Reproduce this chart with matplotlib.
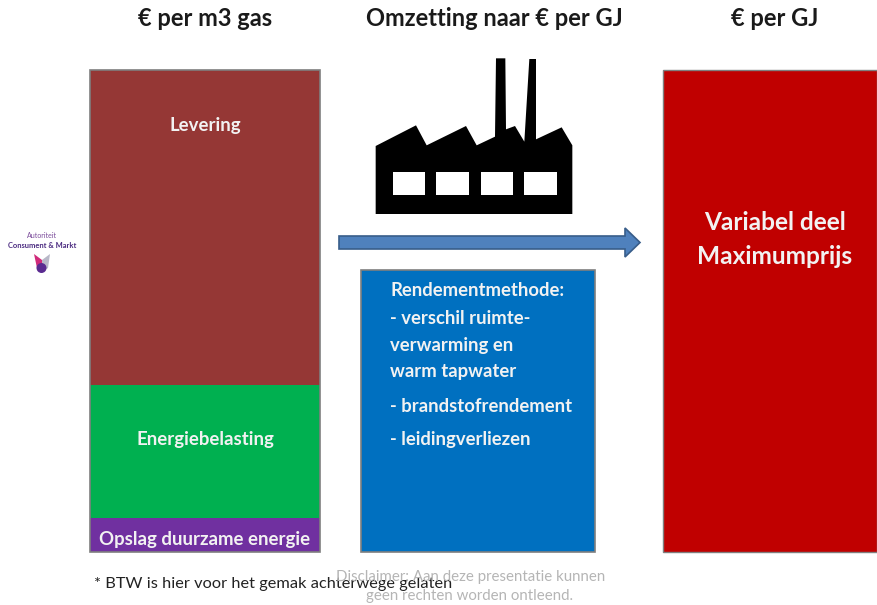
import matplotlib
matplotlib.use('Agg')
import matplotlib.pyplot as plt
from matplotlib.patches import Polygon, Rectangle, FancyArrow, Circle

plt.rcParams['font.family'] = ['Lato', 'DejaVu Sans']

# Stacked segments of the left column (height in picture pixels)
segment_labels = ['Levering', 'Energiebelasting', 'Opslag duurzame energie']
segment_values = [315, 133, 34]
segment_colors = ['#953735', '#00B050', '#7030A0']

headers = ['€ per m3 gas', 'Omzetting naar € per GJ', '€ per GJ']
method_lines = ['Rendementmethode:', '- verschil ruimte-', 'verwarming en', 'warm tapwater',
                '- brandstofrendement', '- leidingverliezen']
result_lines = ['Variabel deel', 'Maximumprijs']

factory_outline = [(107, 318), (228, 256), (260, 316), (378, 258), (410, 316), (465, 290),
                   (468, 55), (496, 55), (498, 268), (525, 258), (553, 305), (568, 57),
                   (588, 57), (588, 298), (665, 262), (697, 316), (697, 522), (107, 522)]
factory_windows = [158, 289, 422, 553]

fig = plt.figure(figsize=(8.77, 6.05), dpi=100)
ax = fig.add_axes([0, 0, 1, 1])
ax.set_xlim(0, 877)
ax.set_ylim(605, 0)
ax.axis('off')

# Headers
for x, t in zip([205, 494, 775], headers):
    ax.text(x, 19, t, ha='center', va='center', fontsize=17, fontweight='bold', color='#1a1a1a')

# Left stacked column
top = 70
for val, col in zip(segment_values, segment_colors):
    ax.bar(205, val, width=230, bottom=top, color=col, edgecolor='none', zorder=2)
    top += val
ax.add_patch(Rectangle((90, 70), 230, 482, fill=False, edgecolor='#7f7f7f', lw=1.2, zorder=3))
for y, t in zip([125, 440, 539], segment_labels):
    ax.text(205, y, t, ha='center', va='center', fontsize=13.4, fontweight='bold', color='#f2f2f2', zorder=4)

pts = [(340 + x / 3, 40 + y / 3) for x, y in factory_outline]
ax.add_patch(Polygon(pts, closed=True, facecolor='black', edgecolor='none', zorder=2))
for wx in factory_windows:
    ax.add_patch(Rectangle((340 + wx / 3, 40 + 395 / 3), 97 / 3, 70 / 3, facecolor='white',
                           edgecolor='none', zorder=3))

# Arrow
ax.add_patch(FancyArrow(339, 242.5, 301, 0, width=13, head_width=29, head_length=15,
                        length_includes_head=True, facecolor='#4F81BD', edgecolor='#385D8A',
                        lw=1.2, zorder=2))

# Middle box
ax.add_patch(Rectangle((361, 270), 234, 282, facecolor='#0070C0', edgecolor='#7f7f7f', lw=1.2, zorder=2))
for y, t in zip([291, 318, 345, 372, 406, 440], method_lines):
    ax.text(390, y, t, ha='left', va='center', fontsize=13.3, fontweight='bold', color='#f2f2f2', zorder=3)

# Right box
ax.add_patch(Rectangle((663, 70), 214, 482, facecolor='#C00000', edgecolor='#7f7f7f', lw=1.0, zorder=2))
for y, t in zip([223, 257], result_lines):
    ax.text(775, y, t, ha='center', va='center', fontsize=17.6, fontweight='bold', color='#f2f2f2', zorder=3)

# Logo
ax.text(42, 236, 'Autoriteit', ha='center', va='center', fontsize=5, color='#7a4a9a')
ax.text(42, 245, 'Consument & Markt', ha='center', va='center', fontsize=5.4, fontweight='bold', color='#4a2a80')
ax.add_patch(Polygon([(34, 254), (42, 260), (42, 272), (37, 268)], facecolor='#d02a7a', edgecolor='none'))
ax.add_patch(Polygon([(50, 254), (42, 260), (42, 272), (48, 268)], facecolor='#b8b8c8', edgecolor='none'))
ax.add_patch(Circle((41.5, 268), 5, facecolor='#5a2a90', edgecolor='none'))

# Footnotes
ax.text(94, 584, '* BTW is hier voor het gemak achterwege gelaten', ha='left', va='center',
        fontsize=11.8, color='#222222', zorder=4)
ax.text(471, 577, 'Disclaimer: Aan deze presentatie kunnen', ha='center', va='center',
        fontsize=10.85, color='#b5b5b5', zorder=5)
ax.text(470, 596, 'geen rechten worden ontleend.', ha='center', va='center',
        fontsize=10.85, color='#b5b5b5', zorder=5)

fig.savefig('out.png', dpi=100)
plt.close(fig)
